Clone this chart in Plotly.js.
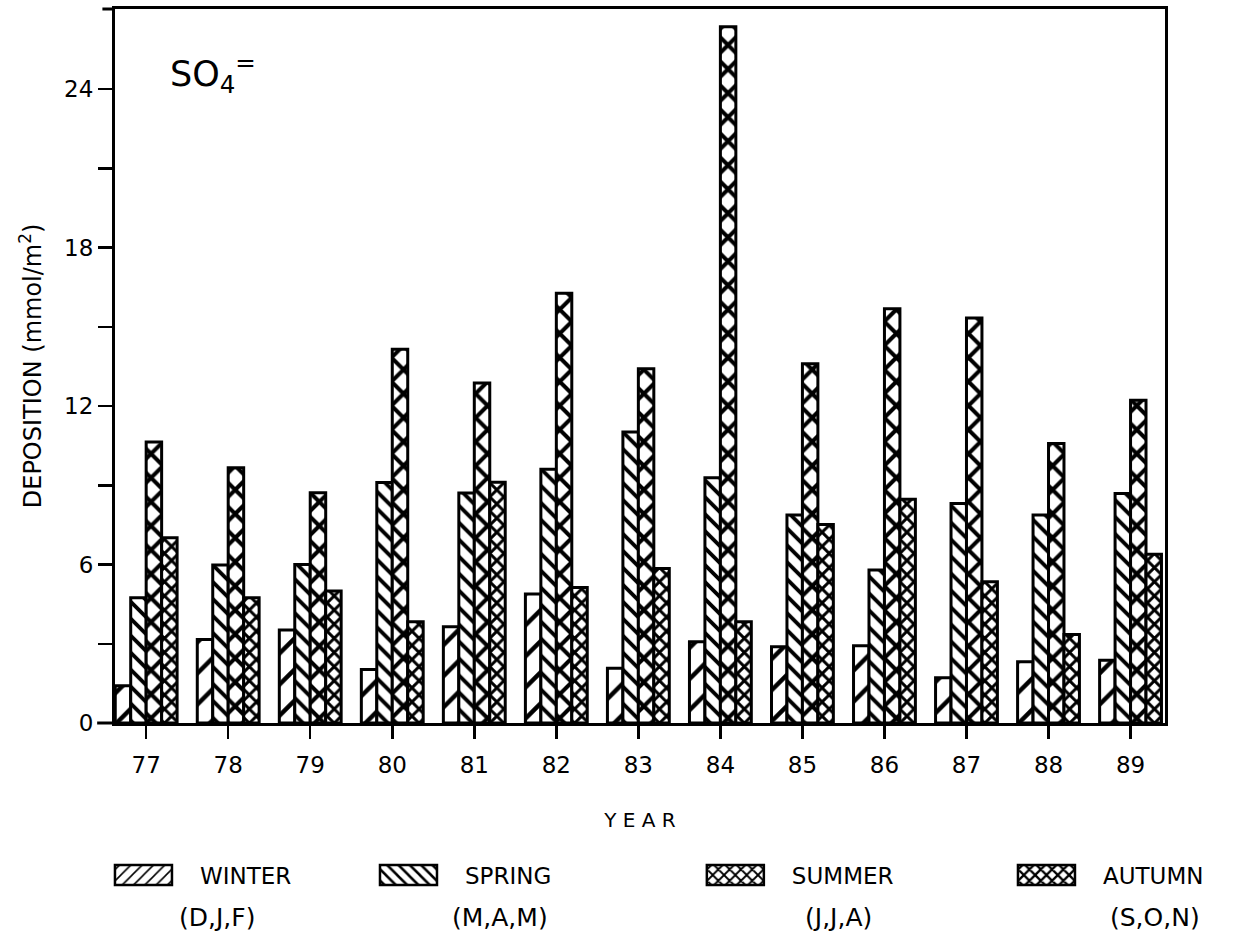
<!DOCTYPE html>
<html>
<head>
<meta charset="utf-8">
<script src="https://cdn.plot.ly/plotly-3.0.1.min.js"></script>
<style>
  html, body { margin: 0; padding: 0; background: #fff; }
  #chart { width: 1238px; height: 945px; }
</style>
</head>
<body>
<div id="chart"></div>
<script>
// ---- data ----
var years = [77, 78, 79, 80, 81, 82, 83, 84, 85, 86, 87, 88, 89];
var yearLabels = ['77', '78', '79', '80', '81', '82', '83', '84', '85', '86', '87', '88', '89'];
var winter = [1.41, 3.16, 3.52, 2.03, 3.64, 4.88, 2.07, 3.08, 2.89, 2.92, 1.71, 2.32, 2.38];
var spring = [4.74, 5.98, 6.00, 9.10, 8.71, 9.61, 11.02, 9.28, 7.87, 5.79, 8.31, 7.87, 8.69];
var summer = [10.64, 9.66, 8.72, 14.15, 12.87, 16.27, 13.41, 26.36, 13.60, 15.68, 15.33, 10.58, 12.22];
var autumn = [7.01, 4.74, 5.00, 3.83, 9.11, 5.13, 5.85, 3.83, 7.51, 8.47, 5.35, 3.35, 6.39];
var seasonNames = ['WINTER', 'SPRING', 'SUMMER', 'AUTUMN'];
var seasonMonths = ['(D,J,F)', '(M,A,M)', '(J,J,A)', '(S,O,N)'];
var yTickVals = [0, 3, 6, 9, 12, 15, 18, 21, 24];
var yTickText = ['0', '', '6', '', '12', '', '18', '', '24'];

var FONT = 'DejaVu Sans, Liberation Sans, Arial, sans-serif';

function barTrace(vals, idx, shape, size, solidity) {
  return {
    type: 'bar',
    x: years,
    y: vals,
    name: seasonNames[idx],
    legend: idx === 0 ? 'legend' : 'legend' + (idx + 1),
    marker: {
      color: '#ffffff',
      line: { color: '#000000', width: 3 },
      pattern: { shape: shape, size: size, solidity: solidity, fgcolor: '#000000', fgopacity: 1, bgcolor: '#ffffff', fillmode: 'overlay' }
    },
    hoverinfo: 'x+y'
  };
}

var traces = [
  barTrace(winter, 0, '/', 22, 0.2),
  barTrace(spring, 1, '\\', 12, 0.32),
  barTrace(summer, 2, 'x', 17, 0.42),
  barTrace(autumn, 3, 'x', 10, 0.5)
];

var legendY = -0.213;
function legendCfg(xpos) {
  return {
    x: xpos, y: legendY, xanchor: 'left', yanchor: 'middle',
    orientation: 'h', bgcolor: 'rgba(0,0,0,0)', borderwidth: 0,
    itemwidth: 103,
    font: { family: FONT, size: 23, color: '#000' }
  };
}

var annY2 = -0.272;
var monthFont = { family: FONT, size: 25, color: '#000' };
var layout = {
  width: 1238, height: 945,
  margin: { l: 115, r: 73, t: 9, b: 222 },
  paper_bgcolor: '#ffffff', plot_bgcolor: '#ffffff',
  showlegend: true,
  barmode: 'group', bargap: 0.246, bargroupgap: 0,
  font: { family: FONT, color: '#000' },
  xaxis: {
    range: [76.62, 89.42],
    tickvals: years, ticktext: yearLabels,
    ticks: 'outside', ticklen: 13, tickwidth: 2.5, tickcolor: '#000',
    ticklabelstandoff: 6,
    showline: true, linewidth: 3, linecolor: '#000', mirror: true,
    showgrid: false, zeroline: false,
    tickfont: { family: FONT, size: 23, color: '#000' },
    title: { text: 'Y E A R', font: { family: FONT, size: 20, color: '#000' }, standoff: 37 }
  },
  yaxis: {
    range: [0, 27.03],
    tickvals: yTickVals, ticktext: yTickText,
    ticks: 'outside', ticklen: 14, tickwidth: 2.5, tickcolor: '#000',
    showline: true, linewidth: 3, linecolor: '#000', mirror: true,
    showgrid: false, zeroline: false,
    tickfont: { family: FONT, size: 23, color: '#000' },
    title: { text: 'DEPOSITION (mmol/m<sup>2</sup>)', font: { family: FONT, size: 24, color: '#000' }, standoff: 16 }
  },
  legend: legendCfg(-0.0267),
  legend2: legendCfg(0.2257),
  legend3: legendCfg(0.537),
  legend4: legendCfg(0.8333),
  annotations: [
    { xref: 'paper', yref: 'paper', x: 0.05, y: 0.91, xanchor: 'left', yanchor: 'middle', showarrow: false,
      text: 'SO<sub>4</sub><sup>=</sup>', font: { family: FONT, size: 35, color: '#000' } },
    { xref: 'paper', yref: 'paper', x: 0.097, y: annY2, xanchor: 'center', yanchor: 'middle', showarrow: false,
      text: seasonMonths[0], font: monthFont },
    { xref: 'paper', yref: 'paper', x: 0.367, y: annY2, xanchor: 'center', yanchor: 'middle', showarrow: false,
      text: seasonMonths[1], font: monthFont },
    { xref: 'paper', yref: 'paper', x: 0.689, y: annY2, xanchor: 'center', yanchor: 'middle', showarrow: false,
      text: seasonMonths[2], font: monthFont },
    { xref: 'paper', yref: 'paper', x: 0.99, y: annY2, xanchor: 'center', yanchor: 'middle', showarrow: false,
      text: seasonMonths[3], font: monthFont }
  ],
  shapes: [
    { type: 'line', xref: 'paper', yref: 'paper', x0: -0.017, x1: 0, y0: 0, y1: 0, line: { color: '#000', width: 3 } },
    { type: 'line', xref: 'paper', yref: 'paper', x0: -0.012, x1: 0, y0: 1, y1: 1, line: { color: '#000', width: 3 } }
  ]
};

var gd = document.getElementById('chart');
Plotly.newPlot(gd, traces, layout, { staticPlot: true }).then(function () {
  // widen legend swatches into rectangles like the reference (symbol is centred in the itemwidth slot)
  gd.querySelectorAll('.legendpoints path').forEach(function (p) {
    p.setAttribute('d', 'M-28.5,10H28.5V-10H-28.5Z');
    p.style.strokeWidth = '2.5px';
    p.style.stroke = '#000';
  });
});
</script>
</body>
</html>
